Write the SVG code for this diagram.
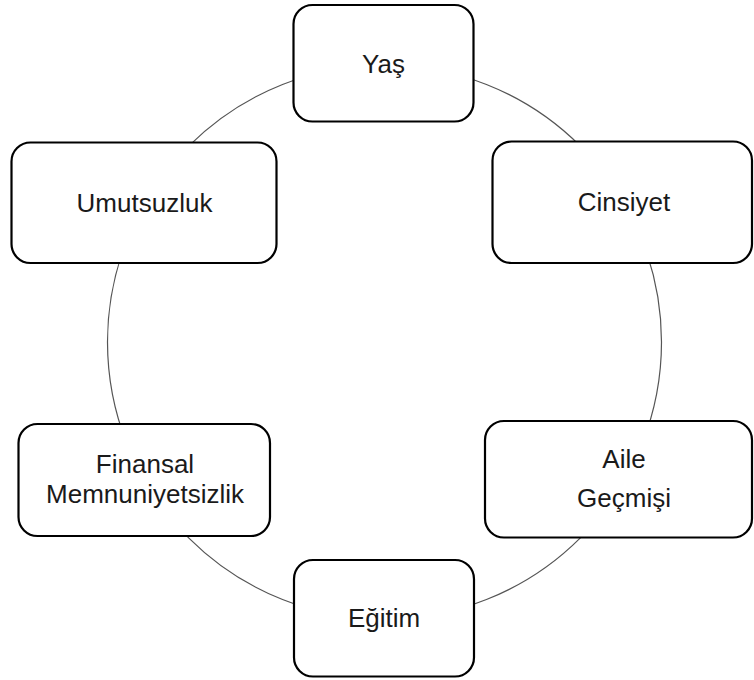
<svg xmlns="http://www.w3.org/2000/svg" width="754" height="680" viewBox="0 0 754 680">
  <style>
    .box { fill: #ffffff; stroke: #000000; stroke-width: 2.2; }
    .ring { fill: none; stroke: #555555; stroke-width: 1.2; }
    .lbl { font-family: "Liberation Sans", Arial, sans-serif; font-size: 26px; fill: #1a1a1a; text-anchor: middle; }
  </style>
  <rect width="754" height="680" fill="#ffffff"/>

  <!-- ring linking the factors -->
  <g id="connectors">
    <circle class="ring" cx="384.5" cy="342" r="277"/>
  </g>

  <g id="node-yas">
    <rect class="box" x="293.5" y="5" width="180" height="116.5" rx="19"/>
    <text class="lbl" x="383.5" y="72.5">Yaş</text>
  </g>

  <g id="node-cinsiyet">
    <rect class="box" x="492.5" y="141.5" width="259.5" height="121.5" rx="19"/>
    <text class="lbl" x="624" y="211">Cinsiyet</text>
  </g>

  <g id="node-aile">
    <rect class="box" x="485" y="421" width="267" height="116.5" rx="19"/>
    <text class="lbl" x="624" y="468.3">Aile</text>
    <text class="lbl" x="624" y="506.7">Geçmişi</text>
  </g>

  <g id="node-egitim">
    <rect class="box" x="294" y="560" width="180" height="116.5" rx="19"/>
    <text class="lbl" x="384" y="626.5">Eğitim</text>
  </g>

  <g id="node-finansal">
    <rect class="box" x="18.5" y="424" width="251.5" height="112" rx="19"/>
    <text class="lbl" x="145" y="473.3">Finansal</text>
    <text class="lbl" x="145" y="503.3">Memnuniyetsizlik</text>
  </g>

  <g id="node-umutsuzluk">
    <rect class="box" x="11.5" y="142.5" width="265" height="120.5" rx="19"/>
    <text class="lbl" x="144.5" y="211.5">Umutsuzluk</text>
  </g>
</svg>
